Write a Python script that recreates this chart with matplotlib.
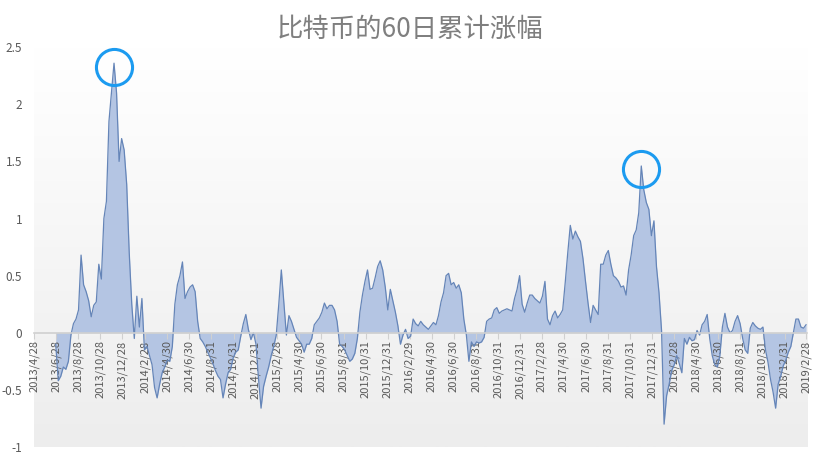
import numpy as np
import pandas as pd
import matplotlib
matplotlib.use("Agg")
import matplotlib.pyplot as plt

plt.rcParams["font.family"] = ["Noto Sans CJK SC", "DejaVu Sans"]

# weekly 60-day cumulative return of bitcoin
start = "2013-06-27"
ret60 = [
    -0.10, -0.42, -0.38, -0.30, -0.32, -0.25, -0.02, 0.08,
    0.12, 0.20, 0.68, 0.42, 0.36, 0.28, 0.14, 0.24,
    0.27, 0.60, 0.47, 1.00, 1.15, 1.85, 2.10, 2.36,
    2.10, 1.50, 1.70, 1.60, 1.30, 0.70, 0.25, -0.05,
    0.32, 0.05, 0.30, -0.15, -0.12, -0.20, -0.28, -0.48,
    -0.57, -0.45, -0.35, -0.30, -0.24, -0.25, -0.12, 0.25,
    0.42, 0.50, 0.62, 0.30, 0.36, 0.40, 0.42, 0.36,
    0.10, -0.05, -0.08, -0.12, -0.17, -0.22, -0.27, -0.33,
    -0.38, -0.41, -0.57, -0.45, -0.35, -0.32, -0.22, -0.17,
    -0.15, -0.03, 0.08, 0.16, 0.03, -0.06, 0.00, -0.10,
    -0.40, -0.66, -0.47, -0.38, -0.30, -0.20, -0.12, -0.02,
    0.25, 0.55, 0.26, -0.02, 0.15, 0.10, 0.03, -0.04,
    -0.07, -0.10, -0.17, -0.10, -0.10, -0.05, 0.07, 0.10,
    0.13, 0.18, 0.26, 0.21, 0.24, 0.24, 0.20, 0.10,
    -0.10, -0.12, -0.15, -0.20, -0.25, -0.23, -0.18, -0.05,
    0.18, 0.33, 0.45, 0.55, 0.38, 0.39, 0.48, 0.58,
    0.63, 0.55, 0.40, 0.20, 0.38, 0.28, 0.18, 0.06,
    -0.10, -0.02, 0.03, -0.05, -0.03, 0.12, 0.08, 0.06,
    0.10, 0.07, 0.05, 0.03, 0.06, 0.09, 0.07, 0.15,
    0.27, 0.35, 0.50, 0.52, 0.42, 0.44, 0.39, 0.42,
    0.35, 0.12, -0.02, -0.25, -0.08, -0.12, -0.08, -0.09,
    -0.08, -0.04, 0.10, 0.12, 0.13, 0.20, 0.22, 0.17,
    0.19, 0.20, 0.21, 0.20, 0.19, 0.30, 0.38, 0.50,
    0.25, 0.18, 0.26, 0.33, 0.33, 0.30, 0.28, 0.26,
    0.32, 0.45, 0.12, 0.07, 0.15, 0.19, 0.13, 0.16,
    0.20, 0.44, 0.70, 0.94, 0.82, 0.89, 0.84, 0.80,
    0.65, 0.45, 0.26, 0.09, 0.24, 0.20, 0.16, 0.60,
    0.60, 0.68, 0.72, 0.60, 0.50, 0.48, 0.45, 0.40,
    0.41, 0.33, 0.55, 0.68, 0.85, 0.90, 1.05, 1.46,
    1.25, 1.14, 1.08, 0.85, 0.98, 0.58, 0.35, 0.02,
    -0.80, -0.55, -0.45, -0.33, -0.28, -0.20, -0.27, -0.35,
    -0.05, -0.10, -0.04, -0.07, -0.06, 0.02, -0.02, 0.07,
    0.10, 0.16, -0.05, -0.20, -0.28, -0.30, -0.20, 0.05,
    0.17, 0.05, 0.00, 0.02, 0.10, 0.15, 0.08, -0.05,
    -0.15, -0.18, 0.04, 0.09, 0.06, 0.04, 0.03, 0.05,
    -0.15, -0.26, -0.41, -0.52, -0.66, -0.45, -0.38, -0.29,
    -0.24, -0.17, -0.12, 0.00, 0.12, 0.12, 0.05, 0.04,
    0.07,
]
tick_dates = [
    "2013/4/28", "2013/6/28", "2013/8/28", "2013/10/28", "2013/12/28",
    "2014/2/28", "2014/4/30", "2014/6/30", "2014/8/31", "2014/10/31",
    "2014/12/31", "2015/2/28", "2015/4/30", "2015/6/30", "2015/8/31",
    "2015/10/31", "2015/12/31", "2016/2/29", "2016/4/30", "2016/6/30",
    "2016/8/31", "2016/10/31", "2016/12/31", "2017/2/28", "2017/4/30",
    "2017/6/30", "2017/8/31", "2017/10/31", "2017/12/31", "2018/2/28",
    "2018/4/30", "2018/6/30", "2018/8/31", "2018/10/31", "2018/12/31",
    "2019/2/28",
]
y_ticks = [-1, -0.5, 0, 0.5, 1, 1.5, 2, 2.5]

GREY_TXT = "#595959"
TITLE_C = "#7f7f7f"
FILL = "#b4c5e3"
LINE = "#6585b8"
RING = "#1c9bf0"

dates = pd.date_range(start, periods=len(ret60), freq="7D")
s = pd.Series(ret60, index=dates)
ticks = pd.to_datetime(tick_dates, format="%Y/%m/%d")

fig = plt.figure(figsize=(8.19, 4.58), dpi=100)
ax = fig.add_axes([0.0415, 0.024, 0.944, 0.873])

# axis line sits on y = 0; set this before styling ticks (it resets them)
for side in ("top", "right", "left"):
    ax.spines[side].set_visible(False)
ax.spines["bottom"].set_position(("data", 0))
ax.spines["bottom"].set_color("#d0d0d0")
ax.spines["bottom"].set_linewidth(1.2)
ax.spines["bottom"].set_zorder(3)

# soft vertical gradient behind the plot area (white at top)
grad = np.linspace(0.0, 1.0, 256).reshape(-1, 1)
ax.imshow(grad, extent=[0, 1, 0, 1], transform=ax.transAxes, aspect="auto",
          cmap=matplotlib.colors.LinearSegmentedColormap.from_list(
              "bg", ["#ffffff", "#ededed"]),
          vmin=0, vmax=1, zorder=0)

ax.fill_between(s.index, 0, s.values, color=FILL, lw=0, zorder=1)
ax.plot(s.index, s.values, color=LINE, lw=0.9, zorder=2)

# rings round the two big peaks
first = s[:"2015-01-01"]
second = s["2017-01-01":]
for part in (first, second):
    ax.plot(part.idxmax(), part.max() - 0.03, "o", ms=26, mfc="none",
            mec=RING, mew=2.2, zorder=5)

ax.set_xlim(ticks[0], s.index[-1] + pd.Timedelta(days=3))
ax.set_ylim(-1, 2.5)
ax.set_yticks(y_ticks)
ax.set_yticklabels([f"{v:g}" for v in y_ticks])
ax.set_xticks(ticks)
ax.set_xticklabels(tick_dates)

ax.tick_params(axis="y", length=0, pad=8.5, labelsize=8.5, labelcolor=GREY_TXT)
ax.tick_params(axis="x", direction="out", length=4, color="#d0d0d0",
               pad=1.5, labelsize=8, labelcolor=GREY_TXT, labelrotation=90)
for lab in ax.get_xticklabels():
    lab.set_ha("center")
    lab.set_va("top")

fig.text(0.5, 0.935, "比特币的60日累计涨幅", ha="center", va="center",
         fontsize=19, color=TITLE_C)

fig.savefig("out.png", dpi=100, facecolor="white")
